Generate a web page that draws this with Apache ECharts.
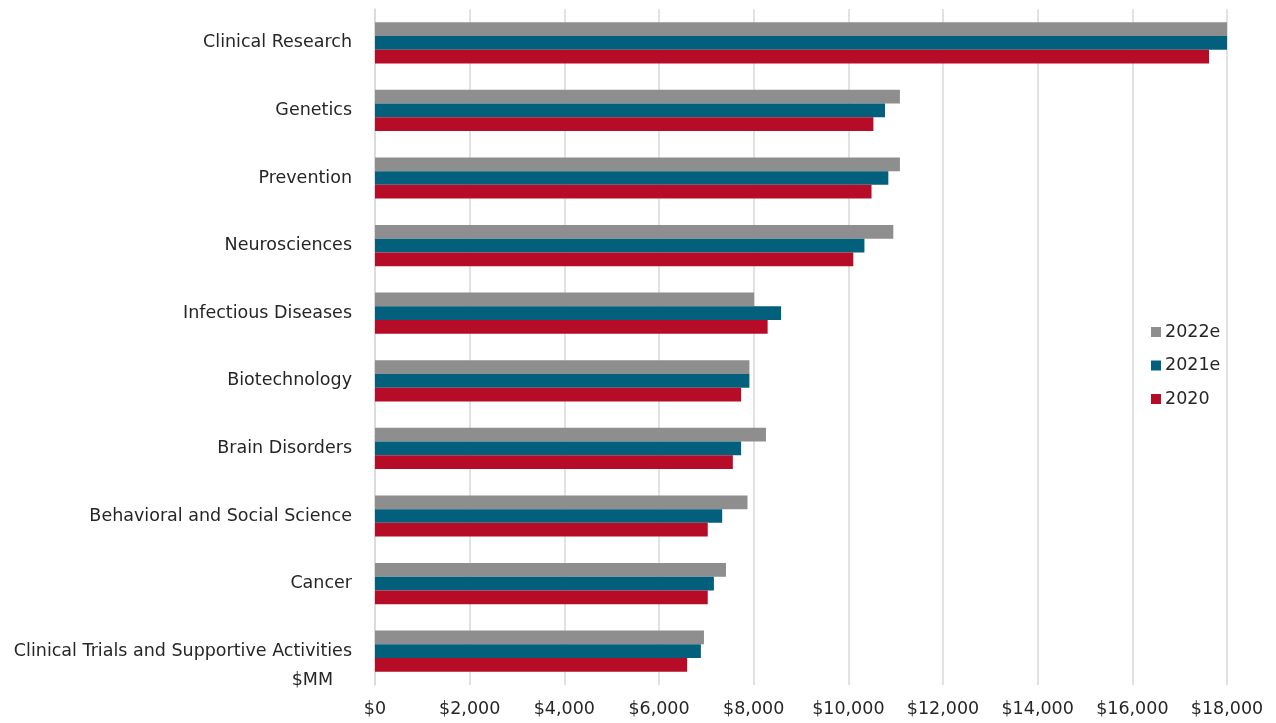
<!DOCTYPE html>
<html>
<head>
<meta charset="utf-8">
<script src="https://cdn.jsdelivr.net/npm/echarts@6/dist/echarts.min.js"></script>
<style>
  html, body { margin: 0; padding: 0; background: #ffffff; }
  #chart { width: 1276px; height: 723px; }
</style>
</head>
<body>
<div id="chart"></div>
<script>
// Research funding by area, $MM
const categories = [
  'Clinical Research',
  'Genetics',
  'Prevention',
  'Neurosciences',
  'Infectious Diseases',
  'Biotechnology',
  'Brain Disorders',
  'Behavioral and Social Science',
  'Cancer',
  'Clinical Trials and Supportive Activities'
];
const values2022e = [18000, 11090, 11090, 10950, 8010, 7910, 8260, 7870, 7415, 6950];
const values2021e = [18000, 10775, 10845, 10340, 8580, 7910, 7735, 7335, 7160, 6885];
const values2020  = [17620, 10530, 10490, 10105, 8295, 7735, 7560, 7030, 7030, 6595];
const seriesNames = ['2022e', '2021e', '2020'];
const tickValues = [0, 2000, 4000, 6000, 8000, 10000, 12000, 14000, 16000, 18000];

const FONT = 'DejaVu Sans';
const TEXT = '#262626';
const colors = ['#8e8e8e', '#03607d', '#b70c27'];

const chart = echarts.init(document.getElementById('chart'), null, { renderer: 'canvas' });

const fmtMoney = v => '$' + v.toLocaleString('en-US');

chart.setOption({
  animation: false,
  backgroundColor: '#ffffff',
  textStyle: { fontFamily: FONT, color: TEXT },
  grid: { left: 375, right: 49, top: 9, bottom: 38, containLabel: false },
  legend: {
    orient: 'vertical',
    left: 1146,
    top: 318,
    itemWidth: 10,
    itemHeight: 10,
    itemGap: 15.5,
    icon: 'rect',
    data: seriesNames,
    textStyle: { fontFamily: FONT, fontSize: 17.5, color: TEXT, lineHeight: 18, padding: [0, 0, 0, -1] }
  },
  xAxis: {
    type: 'value',
    min: tickValues[0],
    max: tickValues[tickValues.length - 1],
    interval: 2000,
    axisLine: { show: false },
    axisTick: { show: false },
    splitLine: { show: true, lineStyle: { color: '#d9d9d9', width: 1.5 } },
    axisLabel: {
      margin: 15,
      fontFamily: FONT,
      fontSize: 17.5,
      color: TEXT,
      formatter: v => fmtMoney(v)
    }
  },
  yAxis: {
    type: 'category',
    data: categories,
    inverse: true,
    axisLine: { show: true, lineStyle: { color: '#d9d9d9', width: 1.5 } },
    axisTick: { show: false },
    axisLabel: {
      margin: 23,
      fontFamily: FONT,
      fontSize: 17.5,
      color: TEXT,
      padding: [3, 0, 0, 0]
    }
  },
  graphic: [{
    type: 'text',
    right: 1276 - 333,
    top: 671,
    style: { text: '$MM', font: '17.5px "' + FONT + '"', fill: TEXT }
  }],
  series: [
    { name: seriesNames[0], type: 'bar', data: values2022e, barGap: '0%', barCategoryGap: '39%',
      itemStyle: { color: colors[0] } },
    { name: seriesNames[1], type: 'bar', data: values2021e, barGap: '0%', barCategoryGap: '39%',
      itemStyle: { color: colors[1] } },
    { name: seriesNames[2], type: 'bar', data: values2020, barGap: '0%', barCategoryGap: '39%',
      itemStyle: { color: colors[2] } }
  ]
});
</script>
</body>
</html>
